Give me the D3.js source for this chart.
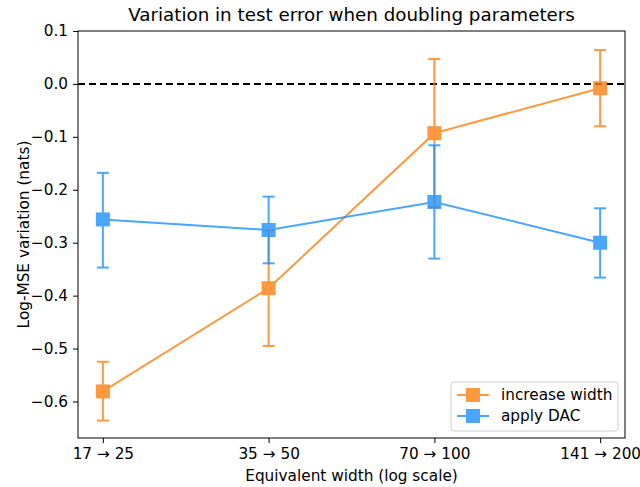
<!DOCTYPE html>
<html>
<head>
<meta charset="utf-8">
<script src="https://cdn.jsdelivr.net/npm/d3@7"></script>
<style>
  body { margin: 0; background: #fff; }
  svg text { font-family: "DejaVu Sans", sans-serif; fill: #000; }
</style>
</head>
<body>
<div class="chart"></div>
<script>
// data
const categories = ['17 \u2192 25', '35 \u2192 50', '70 \u2192 100', '141 \u2192 200'];
const widthMean = [-0.581, -0.386, -0.093, -0.008];
const widthLow  = [-0.636, -0.495, -0.233, -0.080];
const widthHigh = [-0.525, -0.277, 0.047, 0.064];
const dacMean = [-0.256, -0.276, -0.223, -0.300];
const dacLow  = [-0.347, -0.339, -0.330, -0.366];
const dacHigh = [-0.168, -0.213, -0.116, -0.235];
const yTicks = [0.1, 0.0, -0.1, -0.2, -0.3, -0.4, -0.5, -0.6];

const W = 640, H = 487;
const m = {left: 78, right: 15, top: 31, bottom: 49};
const fs = '15.3px';

const svg = d3.select('.chart').append('svg')
  .attr('width', W).attr('height', H);

const x = d3.scalePoint()
  .domain(categories)
  .range([m.left, W - m.right])
  .padding(0.15);

const y = d3.scaleLinear()
  .domain([-0.669, 0.1])
  .range([H - m.bottom, m.top]);

// dashed zero line
svg.append('line')
  .attr('x1', m.left).attr('x2', W - m.right)
  .attr('y1', y(0)).attr('y2', y(0))
  .attr('stroke', '#000').attr('stroke-width', 2)
  .attr('stroke-dasharray', '7,4');

const series = [
  {name: 'increase width', color: '#ff7f0e', mean: widthMean, lo: widthLow, hi: widthHigh},
  {name: 'apply DAC', color: '#1e90ff', mean: dacMean, lo: dacLow, hi: dacHigh}
];

series.forEach(s => {
  const pts = categories.map((c, i) => ({c: c, v: s.mean[i], lo: s.lo[i], hi: s.hi[i]}));
  const g = svg.append('g').attr('opacity', 0.8);

  g.append('path')
    .datum(pts)
    .attr('fill', 'none')
    .attr('stroke', s.color)
    .attr('stroke-width', 2)
    .attr('d', d3.line().x(d => x(d.c)).y(d => y(d.v)));

  const eb = g.selectAll('.eb').data(pts).enter().append('g');
  eb.append('line')
    .attr('x1', d => x(d.c)).attr('x2', d => x(d.c))
    .attr('y1', d => y(d.lo)).attr('y2', d => y(d.hi))
    .attr('stroke', s.color).attr('stroke-width', 2);
  eb.selectAll('.cap').data(d => [[d.c, d.lo], [d.c, d.hi]]).enter()
    .append('line')
      .attr('x1', d => x(d[0]) - 6).attr('x2', d => x(d[0]) + 6)
      .attr('y1', d => y(d[1])).attr('y2', d => y(d[1]))
      .attr('stroke', s.color).attr('stroke-width', 2);

  g.selectAll('rect').data(pts).enter().append('rect')
    .attr('x', d => x(d.c) - 7).attr('y', d => y(d.v) - 7)
    .attr('width', 14).attr('height', 14)
    .attr('fill', s.color);
});

// frame
svg.append('rect')
  .attr('x', m.left).attr('y', m.top)
  .attr('width', W - m.left - m.right).attr('height', H - m.top - m.bottom)
  .attr('fill', 'none').attr('stroke', '#000').attr('stroke-width', 1);

// axes
const xAxis = svg.append('g')
  .attr('transform', `translate(0,${H - m.bottom})`)
  .call(d3.axisBottom(x).tickSize(5).tickPadding(5));
const yAxis = svg.append('g')
  .attr('transform', `translate(${m.left},0)`)
  .call(d3.axisLeft(y).tickValues(yTicks).tickSize(5).tickPadding(5)
    .tickFormat(d => d3.format('.1f')(d).replace('-', '\u2212')));
[xAxis, yAxis].forEach(a => {
  a.select('.domain').remove();
  a.selectAll('text').style('font-size', fs).style('font-family', '"DejaVu Sans", sans-serif');
  a.selectAll('line').attr('stroke', '#000');
});

// labels
svg.append('text')
  .attr('x', (m.left + W - m.right) / 2).attr('y', 21)
  .attr('text-anchor', 'middle').style('font-size', '18.3px')
  .text('Variation in test error when doubling parameters');
svg.append('text')
  .attr('x', (m.left + W - m.right) / 2).attr('y', 481)
  .attr('text-anchor', 'middle').style('font-size', fs)
  .text('Equivalent width (log scale)');
svg.append('text')
  .attr('transform', `translate(29,${(m.top + H - m.bottom) / 2}) rotate(-90)`)
  .attr('text-anchor', 'middle').style('font-size', fs)
  .text('Log-MSE variation (nats)');

// legend
const lg = svg.append('g').attr('transform', 'translate(451,382)');
lg.append('rect')
  .attr('width', 167).attr('height', 49).attr('rx', 3)
  .attr('fill', '#fff').attr('fill-opacity', 0.8)
  .attr('stroke', '#ccc');
series.forEach((s, i) => {
  const row = lg.append('g').attr('transform', `translate(0,${13 + i * 21})`).attr('opacity', 0.8);
  row.append('line').attr('x1', 6).attr('x2', 38).attr('stroke', s.color).attr('stroke-width', 2);
  row.append('line').attr('x1', 22).attr('x2', 22).attr('y1', -7).attr('y2', 7)
    .attr('stroke', s.color).attr('stroke-width', 2);
  row.append('rect').attr('x', 15).attr('y', -7).attr('width', 14).attr('height', 14).attr('fill', s.color);
  lg.append('text').attr('x', 50).attr('y', 13 + i * 21 + 5)
    .style('font-size', fs).text(s.name);
});
</script>
</body>
</html>
